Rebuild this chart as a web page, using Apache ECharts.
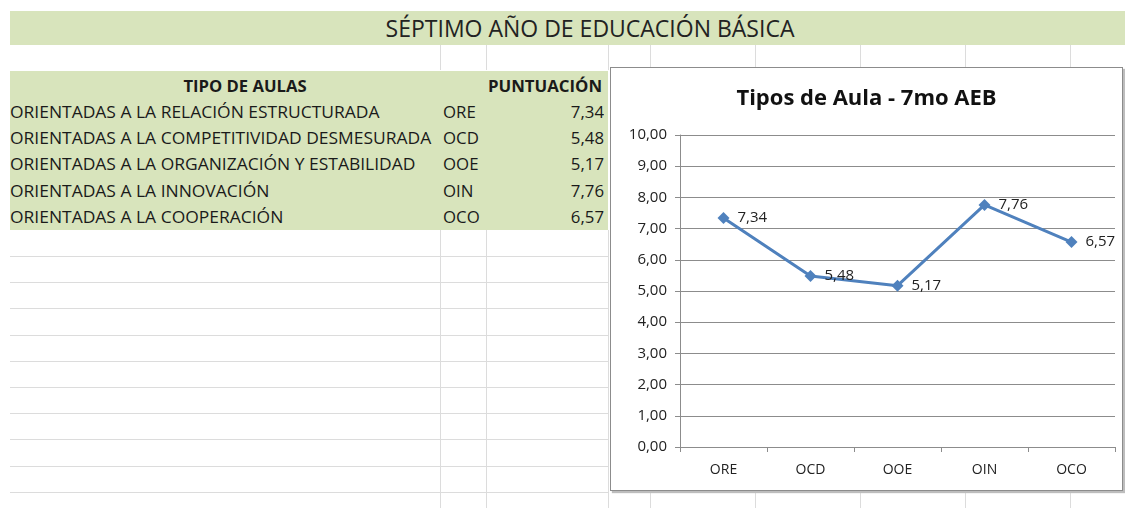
<!DOCTYPE html>
<html><head><meta charset="utf-8">
<script src="https://cdn.jsdelivr.net/npm/echarts@6/dist/echarts.min.js"></script>
<style>
html,body{margin:0;padding:0;background:#fff;width:1125px;height:508px;overflow:hidden;font-family:"Open Sans","Noto Sans",sans-serif;}
#sheet{position:absolute;left:0;top:0;width:1125px;height:508px;}
.band{position:absolute;background:#d8e4bc;}
.t{position:absolute;white-space:nowrap;color:#1a1a1a;font-size:16px;line-height:26px;}
.hl{position:absolute;height:1px;background:#dcdcdc;}
.vl{position:absolute;width:1px;background:#dcdcdc;}
#chartBox{position:absolute;left:610px;top:67px;width:511px;height:422px;border:1px solid #8c8c8c;background:#fff;box-shadow:2px 2px 1px #bdbdbd;}
#chart{width:511px;height:422px;}
</style></head>
<body>
<div id="sheet"></div>
<div id="chartBox"><div id="chart"></div></div>
<script>
var pageTitle = "SÉPTIMO AÑO DE EDUCACIÓN BÁSICA";
var chartTitle = "Tipos de Aula - 7mo AEB";
var headerTipo = "TIPO DE AULAS";
var headerPunt = "PUNTUACIÓN";
var descriptions = [
  "ORIENTADAS A LA RELACIÓN ESTRUCTURADA",
  "ORIENTADAS A LA COMPETITIVIDAD DESMESURADA",
  "ORIENTADAS A LA ORGANIZACIÓN Y ESTABILIDAD",
  "ORIENTADAS A LA INNOVACIÓN",
  "ORIENTADAS A LA COOPERACIÓN"
];
var categories = ["ORE", "OCD", "OOE", "OIN", "OCO"];
var scores = [7.34, 5.48, 5.17, 7.76, 6.57];
var yTicks = [0, 1, 2, 3, 4, 5, 6, 7, 8, 9, 10];

function fmt(v){ return v.toFixed(2).replace('.', ','); }

var sheet = document.getElementById('sheet');
function add(cls, css, txt){
  var d = document.createElement('div'); d.className = cls;
  for (var k in css) d.style[k] = css[k];
  if (txt !== undefined) d.textContent = txt;
  sheet.appendChild(d); return d;
}
[440, 486, 608, 650, 755, 860, 965, 1070].forEach(function(x){
  add('vl', {left:x+'px', top:'45px', height:'25px'});
});
for (var y = 256; y <= 500; y += 26.2) add('hl', {left:'10px', top:Math.round(y)+'px', width:'598px'});
[440, 486, 608].forEach(function(x){ add('vl', {left:x+'px', top:'230px', height:'278px'}); });
[650, 755, 860, 965, 1070].forEach(function(x){ add('vl', {left:x+'px', top:'491px', height:'17px'}); });
add('band', {left:'10px', top:'11px', width:'1115px', height:'34px'});
add('t', {left:'10px', top:'11px', width:'1160px', textAlign:'center', fontSize:'23px', lineHeight:'34px', color:'#222'}, pageTitle);
add('band', {left:'10px', top:'71px', width:'598px', height:'159px'});
add('t', {left:'10px', top:'73px', width:'470px', textAlign:'center', fontWeight:'bold', transform:'scaleX(1.04)', transformOrigin:'235px 0'}, headerTipo);
add('t', {left:'486px', top:'73px', width:'118px', textAlign:'center', fontWeight:'bold', transform:'scaleX(1.05)', transformOrigin:'59px 0'}, headerPunt);
descriptions.forEach(function(d, i){
  var top = 99 + i * 26.2;
  add('t', {left:'10px', top:top+'px', transform:'scaleX(1.09)', transformOrigin:'0 0'}, d);
  add('t', {left:'443px', top:top+'px', transform:'scaleX(1.05)', transformOrigin:'0 0'}, categories[i]);
  add('t', {left:'500px', top:top+'px', width:'104px', textAlign:'right', transform:'scaleX(1.05)', transformOrigin:'104px 0'}, fmt(scores[i]));
});

var chart = echarts.init(document.getElementById('chart'), null, {renderer:'canvas'});
chart.setOption({
  animation:false,
  title:{text:chartTitle, left:'center', top:15, textStyle:{fontFamily:'"Open Sans",sans-serif', fontSize:22, fontWeight:'bold', color:'#111'}},
  grid:{left:69, right:7, top:67, bottom:43, containLabel:false},
  xAxis:{type:'category', data:categories, boundaryGap:true,
    axisLine:{lineStyle:{color:'#8c8c8c', width:1}},
    axisTick:{show:true, alignWithLabel:false, length:5, inside:false, lineStyle:{color:'#8c8c8c'}},
    axisLabel:{color:'#222', fontSize:14, margin:16, fontFamily:'"Open Sans",sans-serif'}},
  yAxis:{type:'value', min:yTicks[0], max:yTicks[yTicks.length-1], interval:1,
    axisLine:{show:true, lineStyle:{color:'#8c8c8c'}},
    axisTick:{show:true, length:5, lineStyle:{color:'#8c8c8c'}},
    splitLine:{lineStyle:{color:'#8c8c8c', width:1}},
    axisLabel:{color:'#222', fontSize:15, margin:13, fontFamily:'"Open Sans",sans-serif', formatter:function(v){return fmt(v);}}},
  series:[{type:'line', data:scores, symbol:'diamond', symbolSize:12,
    lineStyle:{color:'#4f81bd', width:3}, itemStyle:{color:'#4f81bd'},
    label:{show:true, position:'right', distance:8, color:'#222', fontSize:15, fontFamily:'"Open Sans",sans-serif', formatter:function(p){return fmt(p.value);}}}]
});
</script>
</body></html>
